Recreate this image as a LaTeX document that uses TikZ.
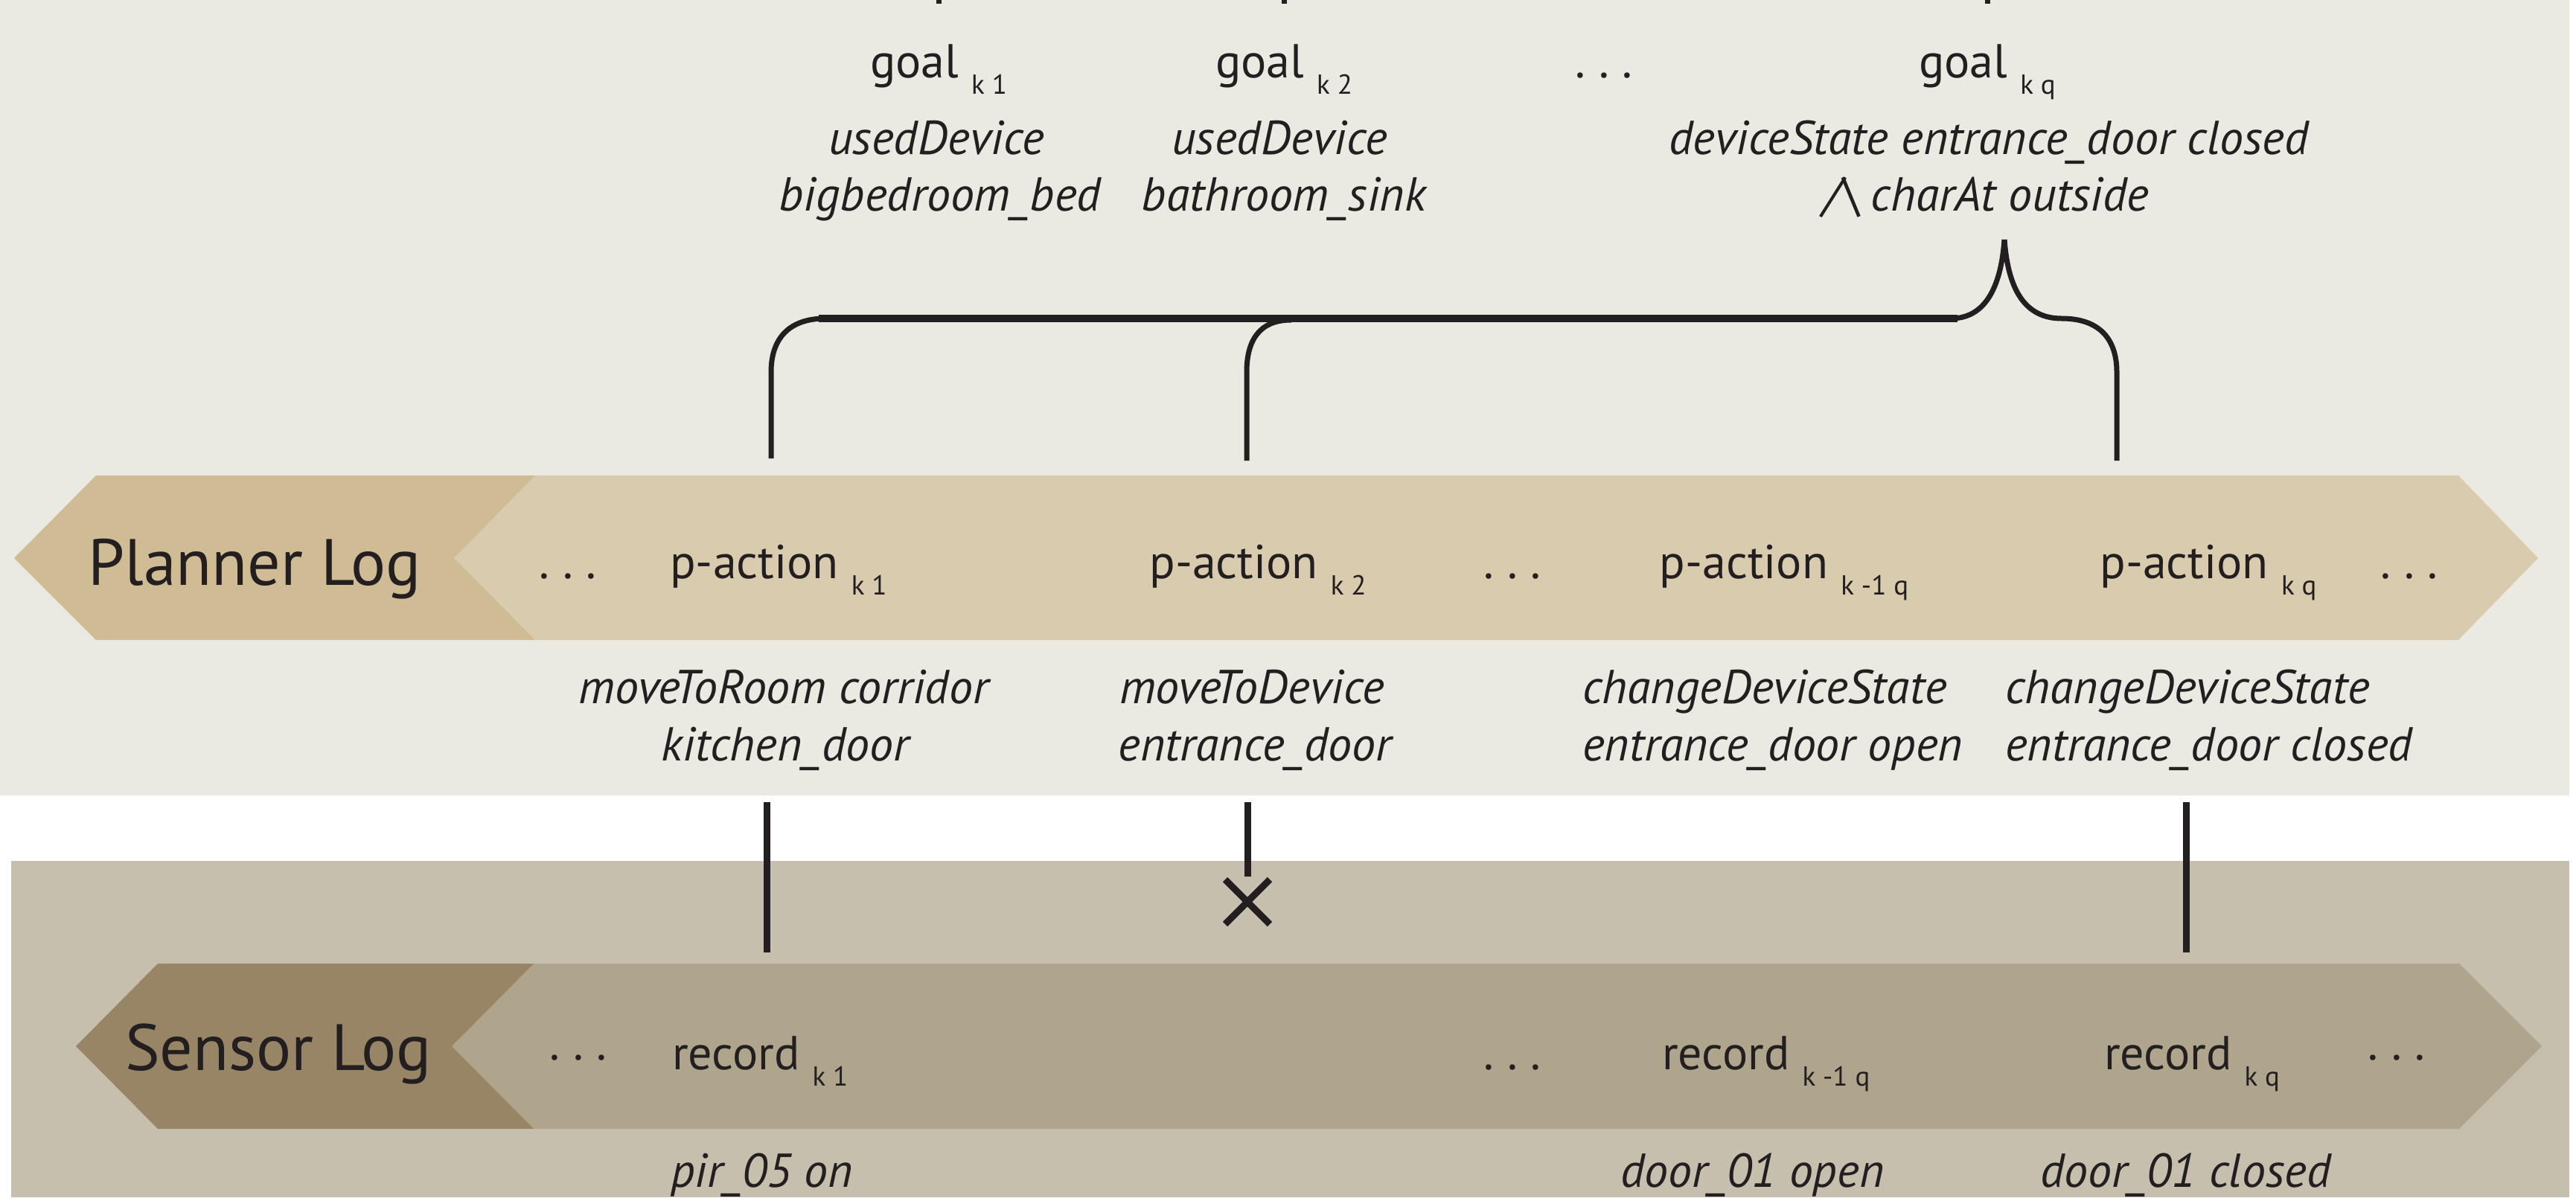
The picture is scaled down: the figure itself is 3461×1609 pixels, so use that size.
\documentclass[tikz,border=0pt]{standalone}
\usepackage{fontspec}
\setmainfont{PT Sans}
\definecolor{ink}{HTML}{231F20}
\definecolor{topbg}{HTML}{EBEAE2}
\definecolor{botbg}{HTML}{C6BFAE}
\definecolor{pdark}{HTML}{CFBC94}
\definecolor{plight}{HTML}{D9CBAD}
\definecolor{sdark}{HTML}{978566}
\definecolor{slight}{HTML}{AFA48C}
\newcommand{\subk}[1]{\raisebox{-22pt}{\fontsize{37}{37}\selectfont #1}}
\newcommand{\tdots}{.\hspace{18pt}.\hspace{18pt}.}
\tikzset{
  txt/.style={inner sep=0pt, outer sep=0pt, text=ink, font=\fontsize{64}{64}\selectfont, anchor=base},
  itx/.style={txt, font=\fontsize{64}{64}\selectfont\itshape},
  itxl/.style={itx, anchor=base west},
  logtitle/.style={txt, font=\fontsize{88}{88}\selectfont},
  link/.style={draw=ink, line width=9pt},
  bracestroke/.style={draw=ink, line width=7pt},
}
\begin{document}
\begin{tikzpicture}[x=1pt,y=-1pt]
\useasboundingbox (0,0) rectangle (3461,1609);
% backgrounds
\fill[white] (0,0) rectangle (3461,1609);
\fill[topbg] (0,0) rectangle (3452,1069);
\fill[botbg] (15,1157) rectangle (3452,1609);
% planner band
\fill[plight] (719,639) -- (3303,639) -- (3410,750) -- (3303,860) -- (719,860) -- (610,750) -- cycle;
\fill[pdark] (19,750) -- (129,639) -- (719,639) -- (610,750) -- (719,860) -- (129,860) -- cycle;
% sensor band
\fill[slight] (717,1295) -- (3304,1295) -- (3415,1406) -- (3304,1517) -- (717,1517) -- (607,1406) -- cycle;
\fill[sdark] (102,1406) -- (212,1295) -- (717,1295) -- (607,1406) -- (717,1517) -- (212,1517) -- cycle;

% top ticks (cut off at top edge)
\coordinate (t1a) at (1261,0); \coordinate (t1b) at (1261,5);
\coordinate (t2a) at (1725,0); \coordinate (t2b) at (1725,5);
\coordinate (t3a) at (2670,0); \coordinate (t3b) at (2670,5);
\draw[bracestroke] (t1a) -- (t1b);
\draw[bracestroke] (t2a) -- (t2b);
\draw[bracestroke] (t3a) -- (t3b);

% goals
\node[txt] (g1) at (1261,104) {goal \subk{k 1}};
\node[txt] (g2) at (1725,104) {goal \subk{k 2}};
\node[txt] (gd) at (2155,104) {\tdots};
\node[txt] (g3) at (2670,104) {goal \subk{k q}};
\node[itx] (g1a) at (1258,207) {usedDevice};
\node[itx] (g1b) at (1263,283) {bigbedroom\_bed};
\node[itx] (g2a) at (1719,207) {usedDevice};
\node[itx] (g2b) at (1725,283) {bathroom\_sink};
\node[itx] (g3a) at (2672,207) {deviceState entrance\_door closed};
\node[itx] (g3b) at (2669,283) {/\textbackslash\ charAt outside};

% brace
\coordinate (b1) at (1036,616);
\coordinate (b2) at (1675,619);
\coordinate (b3) at (2844,619);
\coordinate (tip) at (2693,322);
\draw[draw=ink, line width=10pt] (1100,428) -- (2630,428);
\draw[bracestroke] (b1) -- (1036,500) .. controls (1036,455) and (1060,428) .. (1109,428);
\draw[bracestroke] (2621,428) .. controls (2665,428) and (2688,390) .. (tip);
\draw[bracestroke] (b3) -- (2844,500) .. controls (2844,455) and (2820,428) .. (2770,428)
   .. controls (2721,428) and (2698,390) .. (tip);
\draw[bracestroke] (b2) -- (1675,500) .. controls (1675,460) and (1690,430) .. (1735,430);

% planner row
\node[logtitle] (plog) at (342,786) {Planner Log};
\node[txt] (pd1) at (763,777) {\tdots};
\node[txt] (pa1) at (1046,777) {p-action \subk{k 1}};
\node[txt] (pa2) at (1690,777) {p-action \subk{k 2}};
\node[txt] (pd2) at (2032,777) {\tdots};
\node[txt] (pa3) at (2397,777) {p-action \subk{k -1 q}};
\node[txt] (pa4) at (2967,777) {p-action \subk{k q}};
\node[txt] (pd3) at (3237,777) {\tdots};

% planner descriptions
\node[itx] (d1a) at (1053,945) {moveToRoom corridor};
\node[itx] (d1b) at (1055,1022) {kitchen\_door};
\node[itx] (d2a) at (1682,945) {moveToDevice};
\node[itx] (d2b) at (1686,1022) {entrance\_door};
\node[itxl] (d3a) at (2126,945) {changeDeviceState};
\node[itxl] (d3b) at (2126,1022) {entrance\_door open};
\node[itxl] (d4a) at (2694,945) {changeDeviceState};
\node[itxl] (d4b) at (2694,1022) {entrance\_door closed};

% links
\coordinate (l1a) at (1030,1078); \coordinate (l1b) at (1030,1280);
\coordinate (l2a) at (1676,1078); \coordinate (l2b) at (1676,1178);
\coordinate (l3a) at (2937,1078); \coordinate (l3b) at (2937,1280);
\coordinate (xc) at (1676,1212);
\draw[link] (l1a) -- (l1b);
\draw[link] (l2a) -- (l2b);
\draw[link] (l3a) -- (l3b);
\draw[draw=ink, line width=9pt] ([shift={(-30,-30)}]xc) -- ([shift={(30,30)}]xc);
\draw[draw=ink, line width=9pt] ([shift={(-30,30)}]xc) -- ([shift={(30,-30)}]xc);

% sensor row
\node[logtitle] (slog) at (374,1438) {Sensor Log};
\node[txt] (sd1) at (777,1424) {\tdots};
\node[txt, anchor=base west] (sr1) at (903,1437) {record \subk{k 1}};
\node[txt] (sd2) at (2032,1437) {\tdots};
\node[txt, anchor=base west] (sr3) at (2233,1437) {record \subk{k -1 q}};
\node[txt, anchor=base west] (sr4) at (2827,1437) {record \subk{k q}};
\node[txt] (sd3) at (3220,1424) {\tdots};
\node[itxl] (e1) at (901,1595) {pir\_05 on};
\node[itxl] (e3) at (2177,1595) {door\_01 open};
\node[itxl] (e4) at (2741,1595) {door\_01 closed};
\end{tikzpicture}
\end{document}
